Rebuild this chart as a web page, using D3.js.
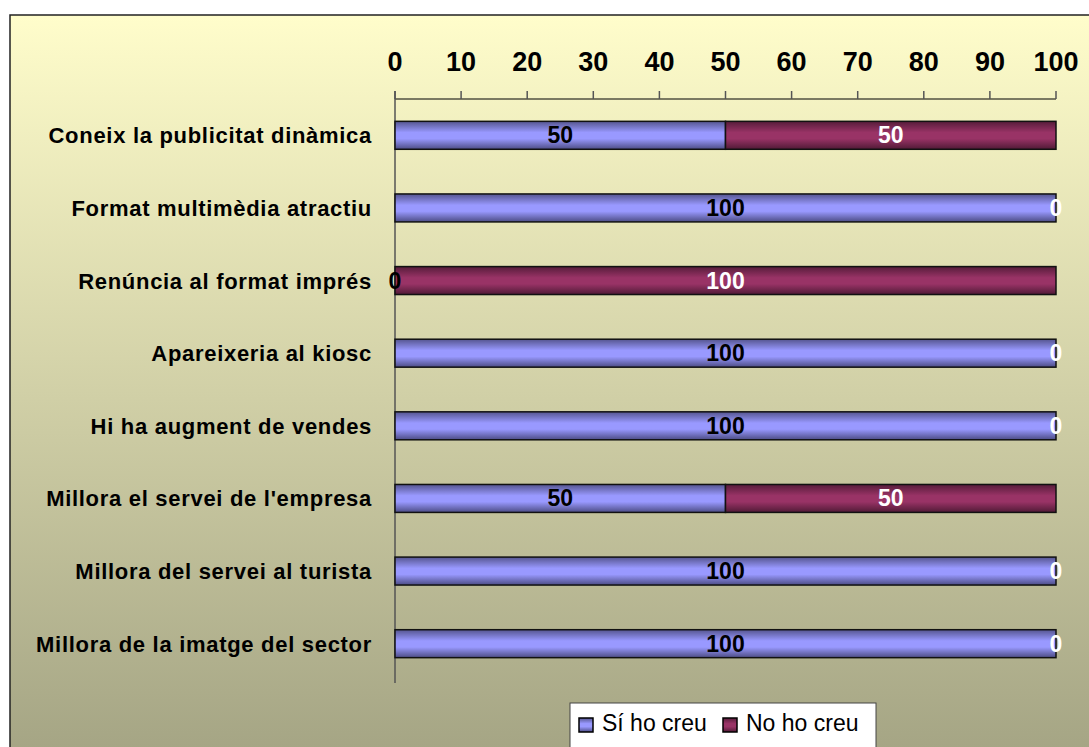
<!DOCTYPE html>
<html>
<head>
<meta charset="utf-8">
<script src="https://cdn.jsdelivr.net/npm/d3@7"></script>
<style>
  body { margin: 0; background: #fff; }
  svg { display: block; font-family: Arial, "Liberation Sans", sans-serif; }
</style>
</head>
<body>
<svg id="chart" width="1089" height="747"></svg>
<script>
var categories = [
  "Coneix la publicitat dinàmica",
  "Format multimèdia atractiu",
  "Renúncia al format imprés",
  "Apareixeria al kiosc",
  "Hi ha augment de vendes",
  "Millora el servei de l'empresa",
  "Millora del servei al turista",
  "Millora de la imatge del sector"
];
var siValues = [50, 100, 0, 100, 100, 50, 100, 100];
var noValues = [50, 0, 100, 0, 0, 50, 0, 0];
var seriesNames = ["Sí ho creu", "No ho creu"];
var xTicks = [0, 10, 20, 30, 40, 50, 60, 70, 80, 90, 100];

var svg = d3.select("#chart");
var defs = svg.append("defs");

// background gradient, pale yellow to olive
var bg = defs.append("linearGradient").attr("id", "bg")
  .attr("x1", 0).attr("y1", 0).attr("x2", 0).attr("y2", 1);
bg.append("stop").attr("offset", "0%").attr("stop-color", "#fffdcb");
bg.append("stop").attr("offset", "100%").attr("stop-color", "#a2a282");

// bar gradients, dark edges and light middle
const barGrad = function(id, edgeTop, mid, edgeBottom) {
  var g = defs.append("linearGradient").attr("id", id)
    .attr("x1", 0).attr("y1", 0).attr("x2", 0).attr("y2", 1);
  g.append("stop").attr("offset", "0%").attr("stop-color", edgeTop);
  g.append("stop").attr("offset", "40%").attr("stop-color", mid);
  g.append("stop").attr("offset", "62%").attr("stop-color", mid);
  g.append("stop").attr("offset", "100%").attr("stop-color", edgeBottom);
};
barGrad("gSi", "#55558f", "#9999ff", "#4c4c84");
barGrad("gNo", "#561c3a", "#993366", "#501a36");

svg.append("rect")
  .attr("x", 10).attr("y", 15)
  .attr("width", 1100).attr("height", 760)
  .attr("fill", "url(#bg)")
  .attr("stroke", "#222").attr("stroke-width", 1.5);

var x = d3.scaleLinear().domain([0, 100]).range([395, 1056]);
var y = d3.scaleBand().domain(categories).range([99, 680])
  .paddingInner(0.615).paddingOuter(0.3075);

// top axis
var axisY = 99;
var axis = svg.append("g");
axis.append("line")
  .attr("x1", x(0)).attr("x2", x(100))
  .attr("y1", axisY).attr("y2", axisY)
  .attr("stroke", "#000").attr("stroke-width", 1);
axis.selectAll("line.tick").data(xTicks).enter().append("line")
  .attr("class", "tick")
  .attr("x1", d => x(d)).attr("x2", d => x(d))
  .attr("y1", axisY - 8).attr("y2", axisY)
  .attr("stroke", "#555").attr("stroke-width", 1.5);
axis.selectAll("text").data(xTicks).enter().append("text")
  .attr("x", d => x(d)).attr("y", 71)
  .attr("text-anchor", "middle")
  .attr("font-size", 27).attr("font-weight", "bold")
  .text(d => d);

// vertical category axis
svg.append("line")
  .attr("x1", x(0)).attr("x2", x(0))
  .attr("y1", axisY - 8).attr("y2", 683)
  .attr("stroke", "#555").attr("stroke-width", 1.5);

// category labels
svg.selectAll("text.cat").data(categories).enter().append("text")
  .attr("class", "cat")
  .attr("x", 372)
  .attr("y", d => y(d) + y.bandwidth() / 2 + 8)
  .attr("text-anchor", "end")
  .attr("font-size", 22).attr("font-weight", "bold")
  .attr("letter-spacing", 0.7)
  .text(d => d);

var rows = categories.map(function(c, i) {
  return { cat: c, si: siValues[i], no: noValues[i] };
});

// bars
var bars = svg.append("g");
bars.selectAll("rect.si").data(rows).enter().append("rect")
  .attr("x", x(0))
  .attr("y", d => y(d.cat))
  .attr("width", d => x(d.si) - x(0))
  .attr("height", y.bandwidth())
  .attr("fill", "url(#gSi)")
  .attr("stroke", "#111").attr("stroke-width", 1.5);
bars.selectAll("rect.no").data(rows).enter().append("rect")
  .attr("x", d => x(d.si))
  .attr("y", d => y(d.cat))
  .attr("width", d => x(d.si + d.no) - x(d.si))
  .attr("height", y.bandwidth())
  .attr("fill", "url(#gNo)")
  .attr("stroke", "#111").attr("stroke-width", 1.5);

// value labels
var labels = svg.append("g")
  .attr("font-size", 23).attr("font-weight", "bold")
  .attr("text-anchor", "middle");
labels.selectAll("text.si").data(rows).enter().append("text")
  .attr("x", d => (x(0) + x(d.si)) / 2)
  .attr("y", d => y(d.cat) + y.bandwidth() / 2 + 8)
  .attr("fill", "#000")
  .text(d => d.si);
labels.selectAll("text.no").data(rows).enter().append("text")
  .attr("x", d => (x(d.si) + x(d.si + d.no)) / 2)
  .attr("y", d => y(d.cat) + y.bandwidth() / 2 + 8)
  .attr("fill", "#fff")
  .text(d => d.no);

// legend
var legend = svg.append("g");
legend.append("rect")
  .attr("x", 570).attr("y", 703)
  .attr("width", 306).attr("height", 60)
  .attr("fill", "#fff").attr("stroke", "#444").attr("stroke-width", 1);
var legX = [579, 723];
var legFill = ["url(#gSi)", "url(#gNo)"];
seriesNames.forEach(function(name, i) {
  legend.append("rect")
    .attr("x", legX[i]).attr("y", 718)
    .attr("width", 14).attr("height", 14)
    .attr("fill", legFill[i])
    .attr("stroke", "#000").attr("stroke-width", 1.5);
  legend.append("text")
    .attr("x", legX[i] + 23).attr("y", 731)
    .attr("font-size", 23)
    .text(name);
});
</script>
</body>
</html>
